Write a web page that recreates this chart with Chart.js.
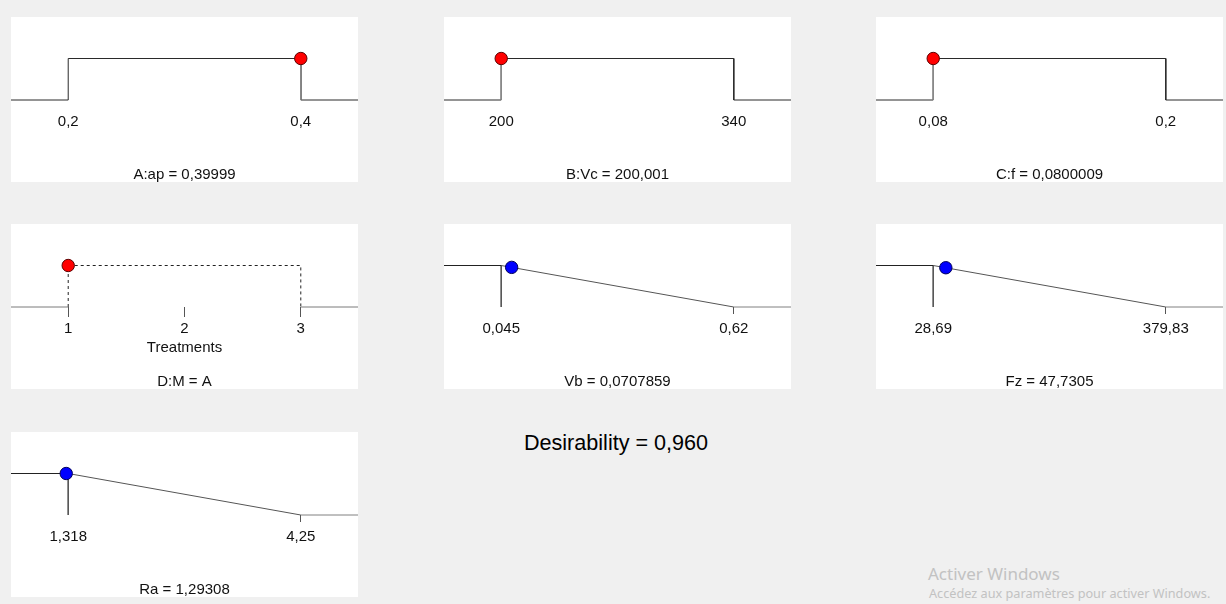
<!DOCTYPE html>
<html>
<head>
<meta charset="utf-8">
<script src="https://cdn.jsdelivr.net/npm/chart.js@4/dist/chart.umd.min.js"></script>
<style>
  body { margin: 0; width: 1226px; height: 604px; overflow: hidden; position: relative; background: #f0f0f0; font-family: 'Liberation Sans', Arial, sans-serif; }
  .panel { position: absolute; width: 347px; height: 165px; background: #fff; }
  .panel canvas { display: block; }
  #desir { position: absolute; left: 466px; width: 300px; top: 430px; text-align: center; font-size: 21.6px; color: #000; line-height: 26px; }
  #wm1 { position: absolute; left: 928px; top: 562px; font-family: 'Noto Sans', sans-serif; font-size: 17px; color: #c2c2c2; }
  #wm2 { position: absolute; left: 929px; top: 584px; font-family: 'Noto Sans', sans-serif; font-size: 12.7px; color: #c2c2c2; }
</style>
</head>
<body>
<div id="desir"></div>
<div id="wm1">Activer Windows</div>
<div id="wm2">Accédez aux paramètres pour activer Windows.</div>
<script>
// ramp panels of the optimisation result (factors A-D, responses Vb, Fz, Ra)
const panelNames = ['A:ap = 0,39999', 'B:Vc = 200,001', 'C:f = 0,0800009', 'D:M = A', 'Vb = 0,0707859', 'Fz = 47,7305', 'Ra = 1,29308'];
const goalTypes = ['range', 'range', 'range', 'category', 'minimize', 'minimize', 'minimize'];
const tickValues = [[0.2, 0.4], [200, 340], [0.08, 0.2], [1, 2, 3], [0.045, 0.62], [28.69, 379.83], [1.318, 4.25]];
const tickLabels = [['0,2', '0,4'], ['200', '340'], ['0,08', '0,2'], ['1', '2', '3'], ['0,045', '0,62'], ['28,69', '379,83'], ['1,318', '4,25']];
const solutionX = [0.39999, 200.001, 0.0800009, 1, 0.0707859, 47.7305, 1.29308];
const solutionD = [1, 1, 1, 1, 0.955, 0.946, 1];
const axisTitles = ['', '', '', 'Treatments', '', '', ''];
const desirabilityText = 'Desirability = 0,960';

const panelLeft = [11, 444, 876, 11, 444, 876, 11];
const panelTop = [17, 17, 17, 224, 224, 224, 432];
const W = 347, H = 165;
const plotH = 83;
const font = { family: "'Liberation Sans', Arial, sans-serif", size: 15, weight: 'normal', lineHeight: 1.2 };
const titleBoxH = 18;

document.getElementById('desir').textContent = desirabilityText;

function seg(points, color, dash) {
    return {
        data: points,
        showLine: true,
        borderColor: color,
        borderWidth: 1,
        borderDash: dash || [],
        pointRadius: 0,
        clip: false,
        order: 2
    };
}

function buildPanel(i) {
    const div = document.createElement('div');
    div.className = 'panel';
    div.style.left = panelLeft[i] + 'px';
    div.style.top = panelTop[i] + 'px';
    const canvas = document.createElement('canvas');
    canvas.width = W;
    canvas.height = H;
    div.appendChild(canvas);
    document.body.appendChild(div);

    const vals = tickValues[i];
    const lo = vals[0], hi = vals[vals.length - 1];
    const pad = (hi - lo) * 0.246;
    const xMin = lo - pad, xMax = hi + pad;
    const type = goalTypes[i];

    const datasets = [];
    if (type === 'range') {
        datasets.push(seg([{x: xMin, y: 0}, {x: lo, y: 0}, {x: lo, y: 1}, {x: hi, y: 1}, {x: hi, y: 0}, {x: xMax, y: 0}], '#2a2a2a'));
        datasets.push(Object.assign(seg([{x: solutionX[i], y: solutionD[i]}, {x: solutionX[i], y: 0}], '#8a8a8a'), {order: 1}));
    } else if (type === 'category') {
        datasets.push(seg([{x: xMin, y: 0}, {x: lo, y: 0}], '#7a7a7a'));
        datasets.push(seg([{x: hi, y: 0}, {x: xMax, y: 0}], '#7a7a7a'));
        datasets.push(seg([{x: lo, y: 0}, {x: lo, y: 1}, {x: hi, y: 1}, {x: hi, y: 0}], '#222', [3, 3]));
    } else {
        datasets.push(seg([{x: xMin, y: 1}, {x: lo, y: 1}], '#222'));
        datasets.push(seg([{x: lo, y: 1}, {x: lo, y: 0}], '#555'));
        datasets.push(seg([{x: lo, y: 1}, {x: hi, y: 0}], '#555'));
        datasets.push(seg([{x: hi, y: 0}, {x: xMax, y: 0}], '#808080'));
    }
    const isResponse = type === 'minimize';
    datasets.push({
        data: [{x: solutionX[i], y: solutionD[i]}],
        pointRadius: 6.2,
        pointBackgroundColor: isResponse ? '#0000ff' : '#ff0000',
        pointBorderColor: isResponse ? '#00005a' : '#5a0000',
        pointBorderWidth: 1,
        showLine: false,
        clip: false,
        order: 0
    });

    const tickLen = type === 'category' ? 10 : 7;

    new Chart(canvas, {
        type: 'scatter',
        data: { datasets },
        options: {
            responsive: false,
            animation: false,
            events: [],
            layout: { padding: 0, autoPadding: false },
            plugins: {
                legend: { display: false },
                tooltip: { enabled: false },
                title: {
                    display: true,
                    position: 'bottom',
                    text: panelNames[i],
                    color: '#111',
                    font: font,
                    padding: { top: 2, bottom: -2 }
                }
            },
            scales: {
                x: {
                    type: 'linear',
                    min: xMin,
                    max: xMax,
                    afterBuildTicks: scale => {
                        scale.ticks = vals.map(v => ({ value: v }));
                    },
                    afterFit: scale => {
                        scale.height = H - plotH - titleBoxH;
                        scale.paddingLeft = 0;
                        scale.paddingRight = 0;
                    },
                    border: { display: false },
                    grid: {
                        display: true,
                        drawOnChartArea: false,
                        drawTicks: true,
                        tickLength: tickLen,
                        tickWidth: 1,
                        tickColor: ctx => {
                            if (type === 'range') return 'rgba(0,0,0,0)';
                            if (type === 'minimize' && ctx.tick && ctx.tick.value === lo) return 'rgba(0,0,0,0)';
                            return '#555';
                        }
                    },
                    ticks: {
                        autoSkip: false,
                        maxRotation: 0,
                        padding: 13 - tickLen,
                        color: '#111',
                        font: font,
                        callback: (v, idx) => tickLabels[i][idx]
                    },
                    title: {
                        display: axisTitles[i] !== '',
                        text: axisTitles[i],
                        color: '#111',
                        font: font,
                        padding: { top: 0, bottom: 14 }
                    }
                },
                y: {
                    type: 'linear',
                    display: false,
                    min: 0,
                    max: 2
                }
            }
        }
    });
}

for (let i = 0; i < panelNames.length; i++) {
    buildPanel(i);
}
</script>
</body>
</html>
